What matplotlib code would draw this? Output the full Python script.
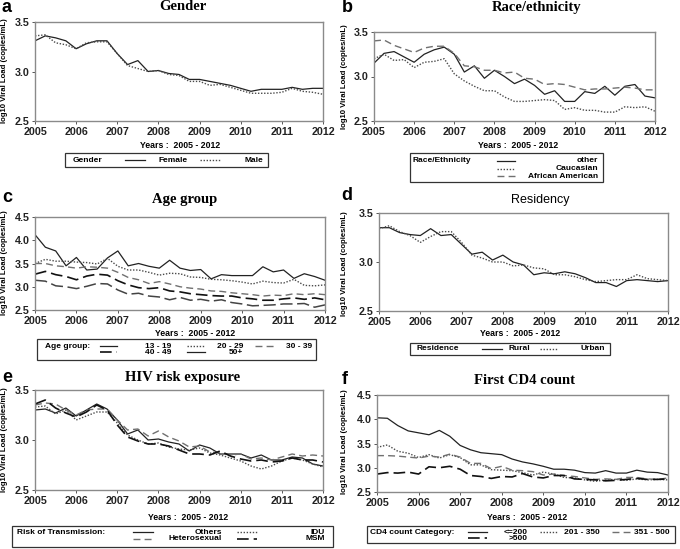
import numpy as np
import matplotlib
matplotlib.use('Agg')
import matplotlib.pyplot as plt
from matplotlib.lines import Line2D
from matplotlib.patches import Rectangle

W, H = 680, 549

quarters = [2005.0, 2005.25, 2005.5, 2005.75, 2006.0, 2006.25, 2006.5, 2006.75,
            2007.0, 2007.25, 2007.5, 2007.75, 2008.0, 2008.25, 2008.5, 2008.75,
            2009.0, 2009.25, 2009.5, 2009.75, 2010.0, 2010.25, 2010.5, 2010.75,
            2011.0, 2011.25, 2011.5, 2011.75, 2012.0]
yearTicks = [2005, 2006, 2007, 2008, 2009, 2010, 2011, 2012]

# a - gender
female = [3.31, 3.36, 3.34, 3.31, 3.23, 3.28, 3.31, 3.31, 3.18, 3.07, 3.11, 3.00, 3.01, 2.98, 2.97,
          2.92, 2.92, 2.90, 2.88, 2.86, 2.83, 2.80, 2.82, 2.82, 2.82, 2.84, 2.82, 2.83, 2.83]
male = [3.36, 3.37, 3.29, 3.27, 3.23, 3.29, 3.30, 3.30, 3.18, 3.06, 3.03, 3.00, 3.01, 2.97, 2.96,
        2.90, 2.90, 2.86, 2.87, 2.84, 2.81, 2.78, 2.78, 2.78, 2.79, 2.83, 2.80, 2.79, 2.77]

# b - race
raceOther = [3.15, 3.26, 3.28, 3.22, 3.16, 3.25, 3.30, 3.33, 3.25, 3.05, 3.12, 2.98, 3.07, 3.00, 2.92,
             2.97, 2.90, 2.80, 2.84, 2.72, 2.72, 2.83, 2.81, 2.89, 2.79, 2.89, 2.91, 2.78, 2.76]
raceCaucasian = [3.20, 3.25, 3.18, 3.19, 3.10, 3.16, 3.17, 3.20, 3.03, 2.95, 2.89, 2.84, 2.84, 2.77, 2.72,
                 2.72, 2.73, 2.74, 2.73, 2.63, 2.65, 2.62, 2.62, 2.60, 2.60, 2.66, 2.65, 2.66, 2.61]
raceAfrican = [3.40, 3.41, 3.35, 3.31, 3.27, 3.32, 3.34, 3.34, 3.26, 3.12, 3.11, 3.07, 3.07, 3.04, 3.05,
               2.98, 2.97, 2.91, 2.92, 2.91, 2.88, 2.85, 2.86, 2.86, 2.87, 2.88, 2.87, 2.85, 2.85]

# c - age
age13 = [4.12, 3.85, 3.77, 3.45, 3.63, 3.36, 3.38, 3.62, 3.77, 3.45, 3.50, 3.44, 3.40, 3.57, 3.40,
         3.35, 3.37, 3.17, 3.26, 3.24, 3.24, 3.24, 3.43, 3.32, 3.36, 3.18, 3.28, 3.22, 3.14]
age20 = [3.50, 3.59, 3.55, 3.55, 3.53, 3.52, 3.49, 3.61, 3.44, 3.36, 3.36, 3.31, 3.25, 3.29, 3.28,
         3.21, 3.20, 3.16, 3.15, 3.13, 3.10, 3.06, 3.12, 3.09, 3.08, 3.16, 3.03, 3.02, 3.04]
age30 = [3.50, 3.50, 3.45, 3.43, 3.40, 3.43, 3.42, 3.40, 3.31, 3.20, 3.15, 3.07, 3.11, 3.06, 3.00,
         2.97, 2.95, 2.91, 2.90, 2.87, 2.85, 2.83, 2.80, 2.82, 2.81, 2.85, 2.83, 2.85, 2.83]
age40 = [3.27, 3.33, 3.26, 3.22, 3.15, 3.23, 3.27, 3.25, 3.13, 3.04, 2.98, 2.96, 2.98, 2.91, 2.89,
         2.85, 2.83, 2.81, 2.80, 2.80, 2.76, 2.74, 2.71, 2.71, 2.74, 2.76, 2.73, 2.76, 2.72]
age50 = [3.14, 3.12, 3.02, 3.00, 2.96, 3.01, 3.07, 3.06, 2.93, 2.84, 2.86, 2.80, 2.78, 2.72, 2.77,
         2.71, 2.73, 2.69, 2.72, 2.66, 2.63, 2.59, 2.60, 2.61, 2.63, 2.63, 2.64, 2.56, 2.61]

# d - residence
rural = [3.35, 3.35, 3.30, 3.28, 3.27, 3.34, 3.27, 3.28, 3.18, 3.08, 3.10, 3.02, 3.07, 3.00, 2.97,
         2.87, 2.89, 2.88, 2.90, 2.88, 2.84, 2.79, 2.79, 2.75, 2.81, 2.82, 2.81, 2.80, 2.81]
urban = [3.34, 3.37, 3.31, 3.27, 3.20, 3.26, 3.31, 3.31, 3.20, 3.07, 3.04, 3.00, 3.00, 2.96, 2.97,
         2.94, 2.93, 2.87, 2.87, 2.85, 2.82, 2.80, 2.81, 2.82, 2.82, 2.87, 2.83, 2.82, 2.81]

# e - risk exposure
riskOthers = [3.30, 3.31, 3.27, 3.32, 3.24, 3.30, 3.36, 3.31, 3.20, 3.06, 3.10, 3.00, 3.01, 2.98, 2.96,
              2.89, 2.95, 2.92, 2.86, 2.86, 2.86, 2.82, 2.85, 2.80, 2.80, 2.83, 2.82, 2.76, 2.74]
riskIDU = [3.33, 3.34, 3.26, 3.30, 3.20, 3.24, 3.28, 3.28, 3.17, 3.05, 3.00, 2.96, 2.97, 2.93, 2.91,
           2.90, 2.92, 2.87, 2.85, 2.82, 2.79, 2.74, 2.71, 2.74, 2.79, 2.82, 2.80, 2.76, 2.73]
riskHetero = [3.35, 3.37, 3.36, 3.30, 3.25, 3.30, 3.31, 3.31, 3.20, 3.10, 3.11, 3.04, 3.09, 3.03, 2.99,
              2.93, 2.94, 2.88, 2.87, 2.85, 2.86, 2.81, 2.82, 2.80, 2.83, 2.86, 2.84, 2.85, 2.84]
riskMSM = [3.36, 3.40, 3.32, 3.27, 3.23, 3.28, 3.35, 3.30, 3.15, 3.03, 2.99, 2.96, 2.96, 2.94, 2.90,
           2.86, 2.86, 2.85, 2.89, 2.84, 2.81, 2.79, 2.80, 2.78, 2.79, 2.82, 2.80, 2.80, 2.78]

# f - first CD4 count
cd4Low = [4.03, 4.02, 3.87, 3.76, 3.72, 3.68, 3.77, 3.65, 3.46, 3.37, 3.31, 3.29, 3.27, 3.18, 3.12,
          3.08, 3.03, 2.97, 2.97, 2.95, 2.90, 2.89, 2.94, 2.89, 2.89, 2.95, 2.91, 2.90, 2.85]
cd4Mid = [3.42, 3.47, 3.34, 3.30, 3.21, 3.27, 3.20, 3.27, 3.21, 3.06, 3.06, 2.96, 2.95, 2.94, 2.90,
          2.85, 2.91, 2.87, 2.80, 2.79, 2.75, 2.72, 2.75, 2.76, 2.74, 2.77, 2.75, 2.76, 2.75]
cd4High = [3.25, 3.25, 3.24, 3.22, 3.20, 3.24, 3.22, 3.28, 3.22, 3.09, 3.09, 2.98, 3.03, 2.95, 2.94,
           2.92, 2.85, 2.87, 2.84, 2.82, 2.79, 2.76, 2.77, 2.76, 2.80, 2.80, 2.77, 2.76, 2.79]
cd4Top = [2.87, 2.90, 2.89, 2.91, 2.87, 3.02, 3.00, 3.03, 2.97, 2.84, 2.82, 2.78, 2.82, 2.81, 2.88,
          2.81, 2.79, 2.84, 2.84, 2.77, 2.76, 2.75, 2.73, 2.74, 2.76, 2.78, 2.76, 2.76, 2.77]

SANS = 'Liberation Sans'
SERIF = 'Liberation Serif'

# line styles
SOLID = dict(color='#222222', lw=0.9, ls='-')
DOTTED = dict(color='#4a4a4a', lw=1.0, ls=(0, (1, 1.2)))
DASHED = dict(color='#707070', lw=1.0, ls=(0, (5, 3)))
LONGDASH = dict(color='#111111', lw=1.2, ls=(0, (7, 3)))
GRAYLONG = dict(color='#444444', lw=1.1, ls=(0, (8, 3)))

fig = plt.figure(figsize=(W / 100, H / 100), dpi=100)


def fx(x):
    return x / W


def fy(y):
    return 1 - y / H


def makeAxes(left, top, right, bottom, ylim, yticks):
    ax = fig.add_axes([fx(left), fy(bottom), (right - left) / W, (bottom - top) / H])
    ax.set_xlim(2005, 2012)
    ax.set_ylim(*ylim)
    ax.set_xticks(yearTicks)
    ax.set_yticks(yticks)
    ax.set_yticklabels([f'{t:.1f}' for t in yticks])
    for s in ax.spines.values():
        s.set_color('#8a8a8a')
        s.set_linewidth(1.0)
    ax.tick_params(length=2.5, width=0.7, color='#555555', pad=1.5)
    for lab in ax.get_xticklabels() + ax.get_yticklabels():
        lab.set_fontfamily(SANS)
        lab.set_fontweight('bold')
        lab.set_fontsize(7.7)
        lab.set_color('#222222')
    return ax


def yLabel(x, yc):
    fig.text(fx(x), fy(yc), 'log10 Viral Load (copies/mL)', rotation=90, ha='center', va='center',
             fontsize=5.6, fontweight='bold', family=SANS)


def xLabel(xc, y):
    fig.text(fx(xc), fy(y), 'Years :  2005 - 2012', ha='center', va='center',
             fontsize=6.3, fontweight='bold', family=SANS)


def title(xc, y, text, serif=True):
    if serif:
        fig.text(fx(xc), fy(y), text, ha='center', va='center', fontsize=10.5,
                 fontweight='bold', family=SERIF)
    else:
        fig.text(fx(xc), fy(y), text, ha='center', va='center', fontsize=9, family=SANS)


def letter(x, y, text):
    fig.text(fx(x), fy(y), text, ha='left', va='center', fontsize=13, fontweight='bold', family=SANS)


def box(x0, y0, x1, y1):
    fig.add_artist(Rectangle((fx(x0), fy(y1)), (x1 - x0) / W, (y1 - y0) / H,
                             transform=fig.transFigure, fill=False, ec='#333333', lw=0.9))


def legText(x, y, text, ha='left'):
    fig.text(fx(x), fy(y), text, ha=ha, va='center', fontsize=6, fontweight='bold', family=SANS)


def legLine(x0, x1, y, style):
    fig.add_artist(Line2D([fx(x0), fx(x1)], [fy(y), fy(y)], transform=fig.transFigure, **style))


# ---- a
ax = makeAxes(35, 22, 323, 121, (2.5, 3.5), [2.5, 3.0, 3.5])
ax.plot(quarters, female, **SOLID)
ax.plot(quarters, male, **DOTTED)
letter(2, 7, 'a')
title(183, 7, 'Gender')
yLabel(5, 71)
xLabel(180, 145)
box(65, 153, 268, 167)
legText(73, 160, 'Gender')
legLine(125, 145, 160, SOLID)
legText(188, 160, 'Female', ha='right')
legLine(200, 220, 160, DOTTED)
legText(263, 160, 'Male', ha='right')

# ---- b
ax = makeAxes(374, 32, 655, 121, (2.5, 3.5), [2.5, 3.0, 3.5])
ax.plot(quarters, raceOther, **SOLID)
ax.plot(quarters, raceCaucasian, **DOTTED)
ax.plot(quarters, raceAfrican, **DASHED)
letter(342, 8, 'b')
title(537, 7, 'Race/ethnicity')
yLabel(345, 77)
xLabel(518, 145)
box(410, 153, 603, 182)
legText(413, 161, 'Race/Ethnicity')
legLine(497, 515, 161, SOLID)
legText(598, 161, 'other', ha='right')
legLine(497, 515, 169, DOTTED)
legText(598, 169, 'Caucasian', ha='right')
legLine(497, 515, 176, DASHED)
legText(598, 176, 'African American', ha='right')

# ---- c
ax = makeAxes(35, 217, 325, 310, (2.5, 4.5), [2.5, 3.0, 3.5, 4.0, 4.5])
ax.plot(quarters, age13, **SOLID)
ax.plot(quarters, age20, **DOTTED)
ax.plot(quarters, age30, **DASHED)
ax.plot(quarters, age40, **LONGDASH)
ax.plot(quarters, age50, **GRAYLONG)
letter(2, 198, 'c')
title(185, 200, 'Age group')
yLabel(5, 263)
xLabel(195, 333)
box(37, 339, 316, 360)
legText(45, 346, 'Age group:')
legLine(100, 117, 346, SOLID)
legText(171, 346, '13 - 19', ha='right')
legLine(187, 205, 346, DOTTED)
legText(243, 346, '20 - 29', ha='right')
legLine(255, 275, 346, DASHED)
legText(312, 346, '30 - 39', ha='right')
legLine(100, 117, 352, LONGDASH)
legText(171, 352, '40 - 49', ha='right')
legLine(187, 205, 352, SOLID)
legText(243, 352, '50+', ha='right')

# ---- d
ax = makeAxes(379, 213, 668, 311, (2.5, 3.5), [2.5, 3.0, 3.5])
ax.plot(quarters, rural, **SOLID)
ax.plot(quarters, urban, **DOTTED)
letter(341, 196, 'd')
title(540, 200, 'Residency', serif=False)
yLabel(345, 264)
xLabel(520, 334)
box(410, 343, 610, 355)
legText(416, 349, 'Residence')
legLine(482, 502, 349, SOLID)
legText(530, 349, 'Rural', ha='right')
legLine(540, 557, 349, DOTTED)
legText(605, 349, 'Urban', ha='right')

# ---- e
ax = makeAxes(35, 390, 323, 490, (2.5, 3.5), [2.5, 3.0, 3.5])
ax.plot(quarters, riskOthers, **SOLID)
ax.plot(quarters, riskIDU, **DOTTED)
ax.plot(quarters, riskHetero, **DASHED)
ax.plot(quarters, riskMSM, **LONGDASH)
letter(2, 377, 'e')
title(183, 377, 'HIV risk exposure')
yLabel(5, 440)
xLabel(188, 517)
box(12, 526, 333, 547)
legText(17, 532, 'Risk of Transmission:')
legLine(133, 153, 532, SOLID)
legText(222, 532, 'Others', ha='right')
legLine(237, 257, 532, DOTTED)
legText(325, 532, 'IDU', ha='right')
legLine(133, 153, 539, DASHED)
legText(222, 539, 'Heterosexual', ha='right')
legLine(237, 257, 539, LONGDASH)
legText(325, 539, 'MSM', ha='right')

# ---- f
ax = makeAxes(377, 395, 668, 492, (2.5, 4.5), [2.5, 3.0, 3.5, 4.0, 4.5])
ax.plot(quarters, cd4Low, **SOLID)
ax.plot(quarters, cd4Mid, **DOTTED)
ax.plot(quarters, cd4High, **DASHED)
ax.plot(quarters, cd4Top, **LONGDASH)
letter(342, 380, 'f')
title(525, 380, 'First CD4 count')
yLabel(345, 442)
xLabel(527, 517)
box(367, 526, 675, 543)
legText(370, 532, 'CD4 count Category:')
legLine(468, 487, 532, SOLID)
legText(528, 532, '<=200', ha='right')
legLine(540, 558, 532, DOTTED)
legText(600, 532, '201 - 350', ha='right')
legLine(612, 630, 532, DASHED)
legText(670, 532, '351 - 500', ha='right')
legLine(468, 487, 538, LONGDASH)
legText(528, 538, '>500', ha='right')

fig.savefig('out.png', dpi=100)
